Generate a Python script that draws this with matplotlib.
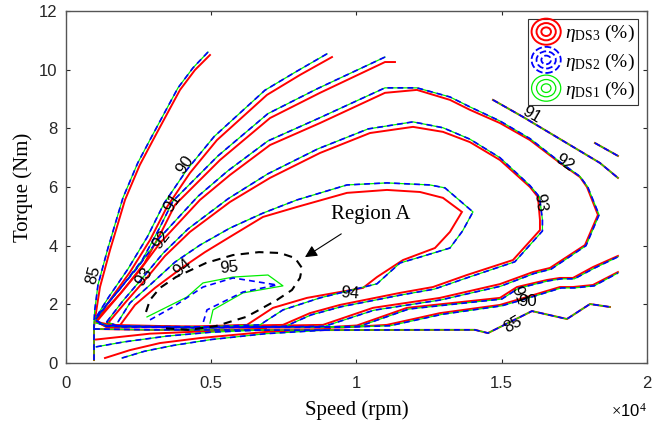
import matplotlib
matplotlib.use('Agg')
import matplotlib.pyplot as plt
from matplotlib.legend_handler import HandlerBase
from matplotlib.lines import Line2D
from matplotlib.patches import Ellipse
from matplotlib.ticker import FuncFormatter

plt.rcParams['font.family'] = ['Liberation Sans', 'DejaVu Sans']
plt.rcParams['mathtext.fontset'] = 'custom'
plt.rcParams['mathtext.rm'] = 'Liberation Serif'
plt.rcParams['mathtext.it'] = 'Liberation Serif:italic'

# contour lines, (speed rpm, torque Nm)
# DS3 (red)
DS3_85_UP = [(4956, 10.50), (4440, 9.99), (3924, 9.31), (3510, 8.55), (2995, 7.60), (2540, 6.75), (2031, 5.56),
             (1721, 4.53), (1618, 4.19), (1515, 3.85), (1170, 2.59), (1030, 1.70), (964, 1.23), (964, 0.10)]
DS3_90_UP = [(9156, 10.43), (8054, 9.82), (6918, 9.14), (5197, 7.60), (4268, 6.48), (3476, 5.32), (2891, 4.19),
             (2203, 3.10), (1515, 2.15), (1067, 1.47)]
DS3_90_LOW = [(1067, 1.40), (1377, 1.23), (5000, 1.21), (9500, 1.21), (11049, 1.30), (12873, 1.70), (14938, 1.98),
              (15627, 2.18), (17003, 2.59), (17451, 2.59), (18139, 2.66), (19000, 3.10)]
DS3_91_UP = [(11324, 10.26), (10980, 10.26), (8743, 9.21), (7022, 8.35), (5301, 6.92), (3752, 5.39), (3300, 4.50),
             (2700, 3.40), (1900, 2.40), (1300, 1.75), (1067, 1.43)]
DS3_91_LOW = [(1067, 1.40), (1400, 1.24), (5000, 1.22), (9000, 1.22), (10016, 1.28), (11737, 1.88), (14938, 2.22),
              (15524, 2.59), (16556, 2.83), (17003, 2.90), (17451, 2.90), (18139, 3.27), (19000, 3.65)]
DS3_92 = [(1067, 1.43), (1687, 2.15), (2547, 3.17), (3235, 4.09), (4612, 5.56), (5645, 6.41), (7022, 7.43),
          (8743, 8.18), (10980, 9.21), (12081, 9.31), (13217, 8.97), (13906, 8.63), (14938, 8.18), (15971, 7.60),
          (17003, 6.82), (17692, 6.34), (17933, 6.00), (18311, 5.05), (17864, 4.02), (16659, 3.24), (16074, 3.10),
          (14938, 2.69), (12873, 2.22), (10567, 1.88), (8846, 1.30), (4612, 1.23), (1515, 1.30), (1067, 1.40)]
DS3_93 = [(1446, 1.36), (2031, 2.05), (2719, 2.83), (3408, 3.65), (4268, 4.47), (5645, 5.49), (7022, 6.31),
          (8743, 7.16), (10464, 7.84), (11944, 8.05), (12976, 7.88), (13906, 7.53), (14938, 6.92), (15971, 6.00),
          (16246, 5.66), (16315, 4.88), (16315, 4.53), (15386, 3.51), (13802, 3.00), (12632, 2.59), (11496, 2.39),
          (9431, 1.98), (8398, 1.70), (7469, 1.30), (4612, 1.23), (1859, 1.26), (1446, 1.36)]
DS3_94 = [(1893, 1.33), (2375, 1.98), (3063, 2.56), (4027, 3.27), (4784, 3.78), (5645, 4.30), (6781, 4.98),
          (7951, 5.32), (9672, 5.80), (11049, 5.90), (12185, 5.83), (12976, 5.63), (13630, 5.15), (13217, 4.47),
          (12701, 3.92), (11600, 3.51), (10705, 2.93), (10223, 2.56), (8295, 2.22), (7125, 1.88), (6230, 1.30),
          (3924, 1.23), (1893, 1.26)]
DS3_BOT1 = [(1342, 0.17), (2203, 0.44), (3235, 0.68), (4612, 0.85), (6884, 1.06), (9087, 1.16)]
DS3_BOT2 = [(1033, 0.80), (2891, 1.00), (6884, 1.17)]

# DS2 (blue dashed) and DS1 (green) lie on top of each other except near 95 %
DS12_85_UP = [(4888, 10.60), (4370, 10.06), (3855, 9.38), (3440, 8.62), (2925, 7.67), (2470, 6.82), (1960, 5.63),
              (1650, 4.60), (1550, 4.26), (1445, 3.92), (1100, 2.66), (990, 1.80), (964, 1.40), (964, 0.10)]
DS12_90_UP = [(8984, 10.54), (7900, 9.92), (6850, 9.30), (5100, 7.72), (4170, 6.60), (3380, 5.45), (2800, 4.30),
              (2130, 3.20), (1470, 2.25), (1030, 1.55)]
DS12_90_LOW = [(1030, 1.45), (1377, 1.25), (5000, 1.22), (9500, 1.22), (11150, 1.27), (12950, 1.66), (15000, 1.95),
               (15700, 2.15), (17050, 2.56), (17500, 2.56), (18180, 2.63), (19000, 3.07)]
DS12_91_UP = [(10980, 10.43), (8650, 9.35), (6950, 8.50), (5230, 7.06), (3680, 5.52), (3230, 4.62), (2630, 3.52),
              (1840, 2.50), (1250, 1.82), (1030, 1.50)]
DS12_91_LOW = [(1030, 1.45), (1400, 1.26), (5000, 1.23), (9000, 1.23), (10100, 1.25), (11800, 1.84), (15000, 2.18),
               (15580, 2.55), (16600, 2.80), (17050, 2.87), (17500, 2.87), (18180, 3.23), (19000, 3.62)]
DS12_92 = [(1030, 1.50), (1620, 2.25), (2480, 3.27), (3160, 4.20), (4540, 5.68), (5570, 6.55), (6950, 7.57),
           (8670, 8.33), (10980, 9.38), (12081, 9.38), (13217, 9.07), (13906, 8.73), (14938, 8.25), (15971, 7.65),
           (17003, 6.85), (17692, 6.36), (17960, 6.00), (18350, 5.05), (17900, 4.00), (16700, 3.20), (16110, 3.05),
           (14970, 2.62), (12900, 2.15), (10600, 1.80), (8900, 1.25), (4612, 1.20), (1515, 1.27), (1030, 1.36)]
DS12_93 = [(1400, 1.40), (1960, 2.12), (2650, 2.92), (3340, 3.74), (4200, 4.57), (5580, 5.60), (6950, 6.45),
           (8670, 7.30), (10400, 7.98), (11944, 8.22), (12976, 8.02), (13906, 7.63), (14938, 7.00), (15971, 6.05),
           (16300, 5.66), (16400, 4.88), (16400, 4.50), (15450, 3.45), (13850, 2.92), (12680, 2.52), (11540, 2.32),
           (9480, 1.92), (8440, 1.64), (7550, 1.25), (4612, 1.20), (1859, 1.23), (1400, 1.40)]
DS12_94 = [(1790, 1.40), (2203, 2.05), (2891, 2.66), (3752, 3.44), (4612, 4.02), (5645, 4.60), (6781, 5.11),
           (7951, 5.56), (9672, 6.07), (11049, 6.14), (12529, 6.07), (13045, 5.97), (14009, 5.15), (13650, 4.50),
           (13217, 3.92), (12185, 3.61), (11496, 3.41), (10705, 2.70), (8743, 2.22), (7469, 1.81), (6677, 1.30),
           (4000, 1.21), (1790, 1.25)]
DS12_BOT1 = [(1928, 0.17), (2700, 0.40), (3700, 0.60), (5000, 0.80), (6884, 1.00), (9087, 1.13)]
DS12_BOT2 = [(1033, 0.55), (2000, 0.72), (3500, 0.92), (5000, 1.05), (6884, 1.13)]
DS2_95 = [(2891, 1.47), (3683, 1.91), (4716, 2.59), (5748, 2.90), (7263, 2.66), (6092, 2.42), (4853, 1.81),
          (4716, 1.36)]
DS1_95 = [(2788, 1.57), (4165, 2.25), (4716, 2.73), (5748, 2.93), (6953, 3.00), (7469, 2.63), (6092, 2.39),
          (5060, 1.81), (4956, 1.36)]

# segments where all three maps coincide
ALL_85_LOW = [(964, 1.16), (3000, 1.13), (8000, 1.12), (13000, 1.13), (14078, 1.13), (14525, 1.02), (16040, 1.77),
              (17244, 1.50), (18036, 2.01), (18724, 1.91)]
ALL_90_RIGHT = [(18208, 7.50), (19000, 7.06)]
ALL_91_RIGHT = [(14697, 8.97), (15730, 8.39), (18380, 6.82), (19000, 6.31)]

REGION_A = [(2754, 1.74), (2891, 2.15), (3235, 2.56), (3786, 2.93), (4819, 3.41), (5748, 3.68), (6643, 3.78),
            (7366, 3.75), (7882, 3.58), (8123, 3.24), (8054, 2.90), (7779, 2.49), (7263, 2.15), (6574, 1.77),
            (6196, 1.57), (5163, 1.26), (4234, 1.13), (3270, 1.19)]

# contour labels: text, speed, torque, angle
CLABELS = [('85', 929, 3.00, 75), ('90', 4096, 6.75, 55), ('91', 3683, 5.46, 57), ('92', 3270, 4.19, 52),
           ('93', 2685, 2.93, 55), ('94', 4027, 3.27, 40), ('95', 5610, 3.24, 5), ('94', 9775, 2.39, -5),
           ('93', 16315, 5.46, -82), ('92', 17176, 6.82, -35), ('91', 16040, 8.46, -30), ('91', 15593, 2.32, -70),
           ('90', 15902, 2.08, 0), ('85', 15386, 1.30, 30)]

RED, BLUE, GREEN = '#ff0000', '#0000ff', '#00ee00'


def xy(pts):
    return [p[0] for p in pts], [p[1] for p in pts]


class RingHandler(HandlerBase):
    def create_artists(self, legend, orig, xdescent, ydescent, width, height, fontsize, trans):
        cx = -xdescent + width / 2
        cy = -ydescent + height / 2
        out = []
        for k in (1.0, 0.66, 0.33):
            e = Ellipse((cx, cy), width * k, height * 1.5 * k, fill=False, edgecolor=orig.get_color(),
                        linestyle=orig.get_linestyle(), linewidth=orig.get_linewidth(), transform=trans)
            out.append(e)
        return out


fig = plt.figure(figsize=(6.68, 4.26), dpi=100)
ax = fig.add_axes([66 / 668, 63 / 426, 581 / 668, 352 / 426])

red_lines = [DS3_85_UP, DS3_90_UP, DS3_90_LOW, DS3_91_UP, DS3_91_LOW, DS3_92, DS3_93, DS3_94, DS3_BOT1, DS3_BOT2,
             ALL_85_LOW, ALL_90_RIGHT, ALL_91_RIGHT]
shared = [DS12_85_UP, DS12_90_UP, DS12_90_LOW, DS12_91_UP, DS12_91_LOW, DS12_92, DS12_93, DS12_94, DS12_BOT1,
          DS12_BOT2, ALL_85_LOW, ALL_90_RIGHT, ALL_91_RIGHT]

for pts in red_lines:
    ax.plot(*xy(pts), color=RED, lw=1.4, solid_joinstyle='miter')
for pts in shared + [DS1_95]:
    ax.plot(*xy(pts), color=GREEN, lw=0.9)
for pts in shared + [DS2_95]:
    ax.plot(*xy(pts), color=BLUE, lw=1.2, dashes=(3.5, 2.5))

ax.plot(*xy(REGION_A), color='black', lw=1.5, dashes=(4, 3))
ax.annotate('Region A', xy=(8227, 3.61), xytext=(10498, 5.05), ha='center', va='center',
            fontsize=15, family='Liberation Serif',
            arrowprops=dict(arrowstyle='-|>', color='black', lw=0.8, mutation_scale=18, shrinkA=9, shrinkB=0))

for txt, sx, ty, rot in CLABELS:
    ax.text(sx, ty, txt, fontsize=12, rotation=rot, ha='center', va='center', rotation_mode='anchor')

ax.set_xlim(0, 20000)
ax.set_ylim(0, 12)
ax.set_xticks([0, 5000, 10000, 15000, 20000])
ax.set_yticks(range(0, 13, 2))
ax.xaxis.set_major_formatter(FuncFormatter(lambda v, p: f'{v / 1e4:g}'))
ax.tick_params(direction='in', length=3, labelsize=12, top=True, right=True, colors='#262626')
ax.tick_params(axis='x', pad=9)
ax.tick_params(axis='y', pad=6)
for s in ax.spines.values():
    s.set_color('#555555')
    s.set_linewidth(1.0)
ax.set_xlabel('Speed (rpm)', fontsize=15, family='Liberation Serif', labelpad=7)
ax.set_ylabel('Torque (Nm)', fontsize=15, family='Liberation Serif', labelpad=4)
ax.text(1.0, -0.11, r'$\times$10$^4$', transform=ax.transAxes, ha='right', va='top', fontsize=12,
        family='Liberation Sans')

handles = [Line2D([], [], color=RED, lw=1.4), Line2D([], [], color=BLUE, lw=1.3, linestyle='--'),
           Line2D([], [], color=GREEN, lw=0.9)]
labels = [r'$\eta_{\mathrm{DS3}}$ (%)', r'$\eta_{\mathrm{DS2}}$ (%)', r'$\eta_{\mathrm{DS1}}$ (%)']
leg = ax.legend(handles, labels, handler_map={Line2D: RingHandler()}, loc='upper right',
                bbox_to_anchor=(0.985, 0.977), borderaxespad=0, fancybox=False, edgecolor='#333333',
                framealpha=1, prop={'family': 'Liberation Serif', 'size': 14}, handlelength=1.5,
                handleheight=1.0, handletextpad=0.2, labelspacing=0.35, borderpad=0.2)
leg.get_frame().set_linewidth(0.8)

fig.savefig('out.png', dpi=100)
